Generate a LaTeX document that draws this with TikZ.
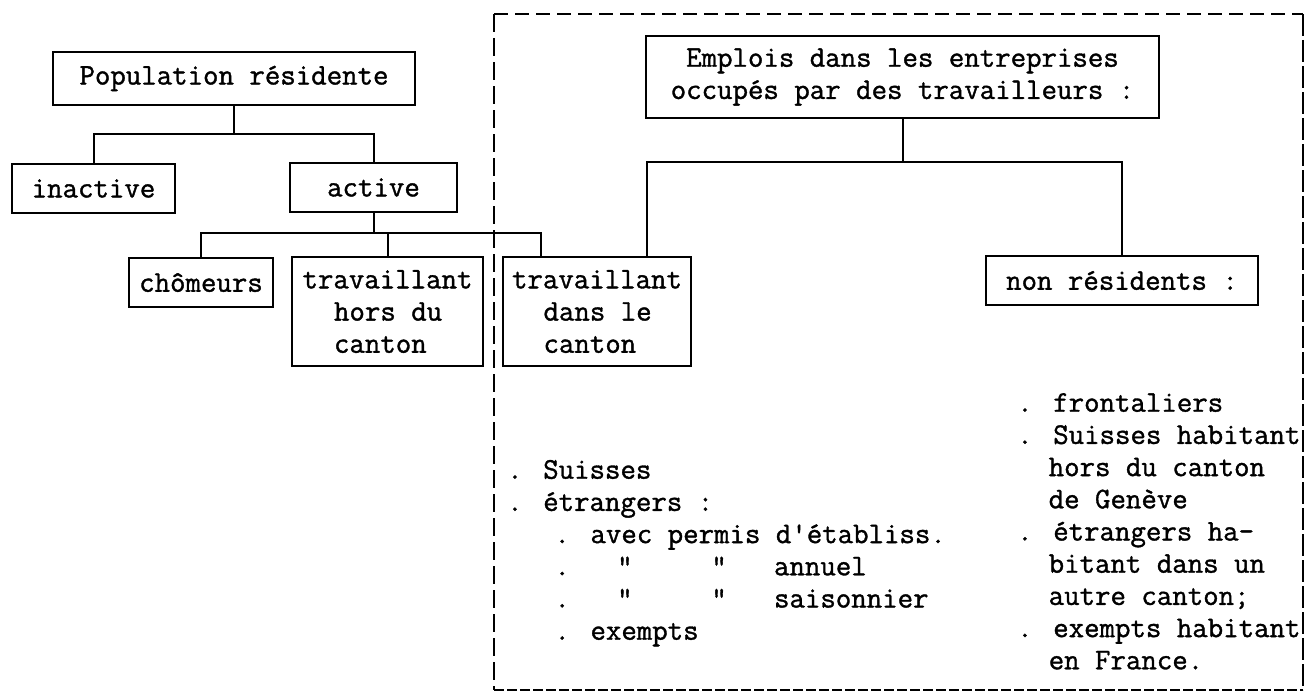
\documentclass[tikz,border=0pt]{standalone}
\usepackage{fontspec}
\newfontfamily\twf{Latin Modern Mono}[FakeBold=1.2]
\newdimen\mycw \mycw=15.75pt
\newcommand\chs[1]{\hspace*{#1\mycw}}
\tikzset{
  tw/.style={font=\twf\fontsize{30}{32.2}\selectfont},
  bx/.style={tw, draw, line width=2pt, inner sep=2pt, align=center},
  conn/.style={line width=2pt},
  lst/.style={tw, align=left, anchor=north west, inner sep=0pt},
}
\begin{document}
\begin{tikzpicture}[x=1pt,y=-1pt]
\fill[white] (0,0) rectangle (1305,693);
\useasboundingbox (0,0) rectangle (1305,693);
% boxes
\node[bx, minimum width=362pt, minimum height=53pt] (pop) at (234,78.5) {Population résidente};
\node[bx, minimum width=163pt, minimum height=49pt] (inactive) at (93.5,188.5) {inactive};
\node[bx, minimum width=167pt, minimum height=49pt] (active) at (373.5,187.5) {active};
\node[bx, minimum width=144pt, minimum height=49pt] (chom) at (201,282.5) {chômeurs};
\node[bx, align=left, minimum width=191pt, minimum height=109pt] (hors) at (387.5,311.5) {travaillant\\\chs{2}hors du\\\chs{2}canton};
\node[bx, align=left, minimum width=188pt, minimum height=109pt] (dans) at (597,311.5) {travaillant\\\chs{2}dans le\\\chs{2}canton};
\node[bx, minimum width=513pt, minimum height=82pt] (emplois) at (902.5,77) {Emplois dans les entreprises\\occupés par des travailleurs :};
\node[bx, minimum width=272pt, minimum height=49pt] (nonres) at (1122,280.5) {non résidents :};
% lists
\node[lst] (listL) at (507,453.5) {\rule{0pt}{25pt}. Suisses\\. étrangers :\\\chs{3}. avec permis d\textquotesingle établiss.\\\chs{3}.\chs{3}"\chs{5}"\chs{3}annuel\\\chs{3}.\chs{3}"\chs{5}"\chs{3}saisonnier\\\chs{3}. exempts};
\node[lst] (listR) at (1017,386.5) {\rule{0pt}{25pt}. frontaliers\\. Suisses habitant\\\chs{2}hors du canton\\\chs{2}de Genève\\. étrangers ha-\\\chs{2}bitant dans un\\\chs{2}autre canton;\\. exempts habitant\\\chs{2}en France.};
% dashed frame
\coordinate (fTL) at (494,14);
\coordinate (fTR) at (1303,14);
\coordinate (fBR) at (1303,690);
\coordinate (fBL) at (494,690);
\draw[line width=1.8pt, dash pattern=on 14pt off 7pt] (fTL) -- (fTR);
\draw[line width=1.8pt, dash pattern=on 18pt off 6pt] (fTL) -- (fBL);
\draw[line width=2.2pt, dash pattern=on 22pt off 4pt] (fTR) -- (fBR);
\draw[line width=1.8pt, dash pattern=on 10pt off 3pt] (fBL) -- (fBR);
% connectors
\coordinate (j1) at (234,134);
\draw[conn] (pop.south) -- (j1);
\draw[conn] (inactive.north) |- (j1) -| (active.north);
\coordinate (j2) at (373.5,233);
\coordinate (dtop) at ([xshift=-56pt]dans.north);
\draw[conn] (active.south) -- (j2);
\draw[conn] (chom.north) |- (j2) -| (dtop);
\draw[conn] (hors.north) -- (hors.north |- j2);
\coordinate (j3) at (902.5,162);
\coordinate (dtop2) at ([xshift=50pt]dans.north);
\draw[conn] (emplois.south) -- (j3);
\draw[conn] (dtop2) |- (j3) -| (nonres.north);
\end{tikzpicture}
\end{document}
